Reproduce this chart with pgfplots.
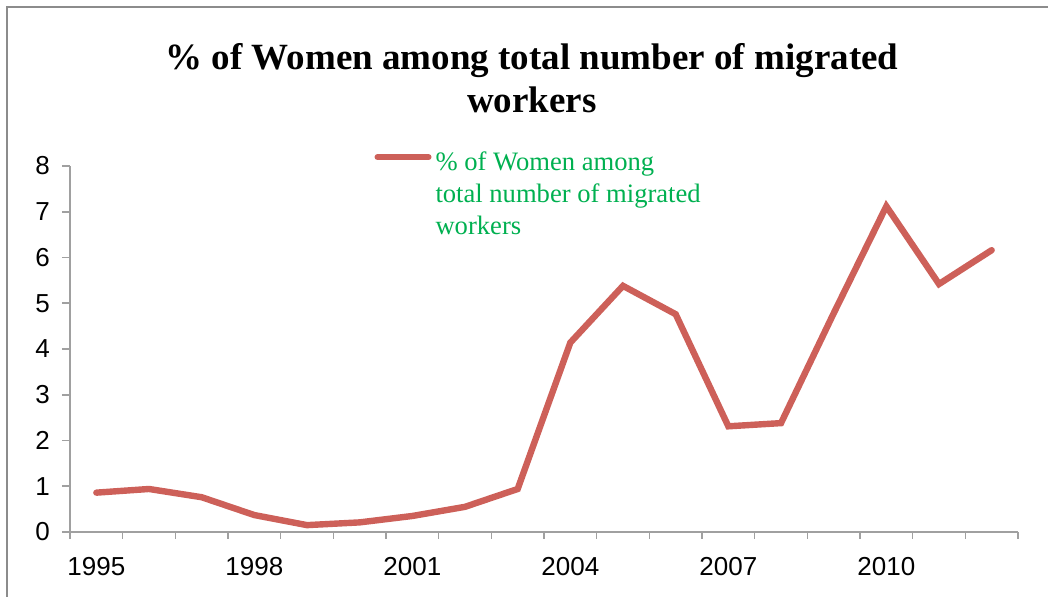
\documentclass[border=0pt]{standalone}
\usepackage{pgfplots}
\pgfplotsset{compat=1.18}
\usepackage{fontspec}
\setmainfont{Liberation Serif}
\newfontfamily\arialfont{Liberation Sans}
\definecolor{linered}{RGB}{205,96,89}
\definecolor{leggreen}{RGB}{0,176,80}
\definecolor{axisgray}{RGB}{160,160,160}
\definecolor{framegray}{RGB}{140,140,140}
\begin{document}
\begin{tikzpicture}
\useasboundingbox (0,0) rectangle (524pt,298.5pt);
\draw[framegray, line width=0.8pt] (3.5pt,-2pt) -- (3.5pt,295pt) -- (526pt,295pt);
\node[align=center, font=\fontsize{18.5}{21.5}\selectfont\bfseries] at (266pt,259.5pt)
  {\% of Women among total number of migrated\\workers};
\begin{axis}[
  at={(35pt,32.5pt)}, anchor=south west,
  width=474pt, height=183pt, scale only axis,
  xmin=-0.5, xmax=17.5, ymin=0, ymax=8,
  axis x line=bottom, axis y line=left,
  axis line style={draw=axisgray, line width=0.8pt, -},
  xtick={0,3,6,9,12,15},
  xticklabels={1995,1998,2001,2004,2007,2010},
  minor xtick={-0.5,0.5,...,17.5},
  ytick={0,1,...,8},
  tick align=outside,
  major tick length=4pt, minor tick length=3.5pt,
  major x tick style={draw=none},
  every tick/.style={draw=axisgray, line width=0.8pt},
  minor tick style={draw=axisgray, line width=0.8pt},
  /pgf/number format/assume math mode=true,
  tick label style={font=\arialfont\fontsize{13}{15}\selectfont, text=black},
  xticklabel style={yshift=-5pt},
  yticklabel style={xshift=-2.5pt},
  clip=false,
  legend style={draw=none, fill=none, at={(axis description cs:0.3208,1.06)}, anchor=north west,
    font=\fontsize{13.3}{16}\selectfont, text=leggreen, inner sep=0pt},
  legend cell align=left,
  legend image code/.code={\draw[linered, line width=3pt, line cap=round] (-2.5pt,2pt) -- (23pt,2pt);},
]
\addplot[linered, line width=3.2pt, line cap=round, line join=miter] coordinates {
(0,0.86) (1,0.94) (2,0.76) (3,0.37) (4,0.15) (5,0.21) (6,0.35) (7,0.55) (8,0.94)
(9,4.14) (10,5.38) (11,4.76) (12,2.31) (13,2.38) (14,4.78) (15,7.12) (16,5.42) (17,6.16)
};
\addlegendentry{\begin{tabular}[t]{@{}l@{}}\% of Women among\\total number of migrated\\workers\end{tabular}}
\end{axis}
\end{tikzpicture}
\end{document}
